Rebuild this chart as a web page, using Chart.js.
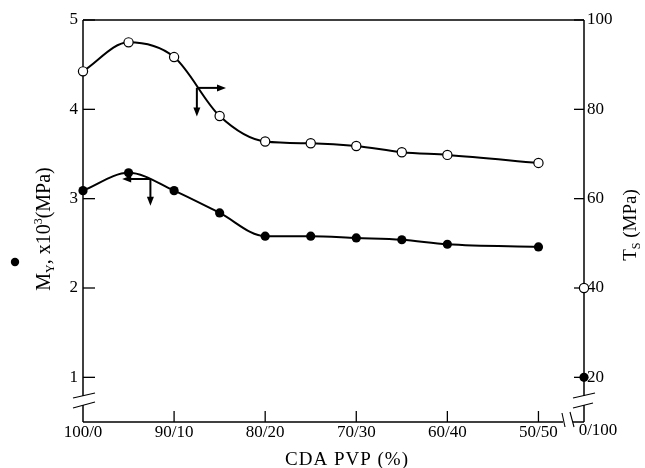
<!DOCTYPE html>
<html>
<head>
<meta charset="utf-8">
<script src="https://cdn.jsdelivr.net/npm/chart.js@4.4.0/dist/chart.umd.min.js"></script>
<style>
  html, body { margin: 0; padding: 0; background: #fff; }
  #wrap { width: 645px; height: 468px; }
</style>
</head>
<body>
<div id="wrap"><canvas id="c" width="645" height="468"></canvas></div>
<script>
// PVP content (%) of each CDA/PVP blend film
const pvpContent = [0, 5, 10, 15, 20, 25, 30, 35, 40, 50];
// Tensile strength T_S (MPa) - open circles, right axis
const tensileStrength = [88.5, 95.0, 91.7, 78.5, 72.8, 72.4, 71.8, 70.4, 69.8, 68.0];
// Young's modulus M_Y x10^3 (MPa) - filled circles, left axis
const youngModulus = [3.09, 3.29, 3.09, 2.84, 2.58, 2.58, 2.56, 2.54, 2.49, 2.46];

// Pure PVP film (0/100), plotted past the axis break
const purePvpLabel = '0/100';
const purePvpTensile = 40;
const purePvpModulus = 1.0;

// Axis ticks
const blendTickValues = [0, 10, 20, 30, 40, 50];
const blendTickLabels = ['100/0', '90/10', '80/20', '70/30', '60/40', '50/50'];
const modulusTicks = [1, 2, 3, 4, 5];
const tensileTicks = [20, 40, 60, 80, 100];

// Axis-indicator arrows: {axis, x, y, toX, downTo}
const axisArrows = [
  { axis: 'yR', x: 12.5, y: 84.8, toX: 15.7, downTo: 78.4 },
  { axis: 'yL', x: 7.4, y: 3.22, toX: 4.3, downTo: 2.92 }
];

// The x axis is broken after 50/50; pure PVP sits at the right edge.
const PURE_PVP_POS = 55;

const SERIF = '"Liberation Serif", "Times New Roman", serif';
const X_LABEL_PAD = 0;

const frame = {
  id: 'frame',
  beforeDatasetsDraw(chart) {
    const { ctx, chartArea: a, scales } = chart;
    const L = a.left, R = a.right, T = a.top, B = a.bottom;
    const seg = (x1, y1, x2, y2) => { ctx.beginPath(); ctx.moveTo(x1, y1); ctx.lineTo(x2, y2); ctx.stroke(); };
    ctx.save();
    ctx.strokeStyle = '#000';
    ctx.lineWidth = 1.5;
    ctx.lineCap = 'butt';
    seg(L, T, R, T);
    seg(L, T, L, B - 26); seg(L, B - 17, L, B);
    seg(R, T, R, B - 26); seg(R, B - 17, R, B);
    seg(L, B, R - 21, B); seg(R - 11, B, R, B);
    // axis break marks
    ctx.lineWidth = 1.1;
    seg(L - 10, B - 24, L + 12, B - 29); seg(L - 10, B - 14, L + 12, B - 20);
    seg(R - 11, B - 24, R + 11, B - 29); seg(R - 11, B - 14, R + 9, B - 19);
    seg(R - 22, B - 9, R - 19, B + 5); seg(R - 14, B - 10, R - 10, B + 5);
    // inward tick marks
    ctx.lineWidth = 1.3;
    modulusTicks.forEach(v => { const y = scales.yL.getPixelForValue(v); seg(L, y, L + 12, y); });
    tensileTicks.forEach(v => { const y = scales.yR.getPixelForValue(v); seg(R - 10, y, R, y); });
    blendTickValues.forEach(v => { if (v === 0) return; const x = scales.x.getPixelForValue(v); seg(x, B, x, B - 11); });
    ctx.restore();
  }
};

const annotations = {
  id: 'annotations',
  afterDatasetsDraw(chart) {
    const { ctx, scales, chartArea: a } = chart;
    const xs = scales.x;
    ctx.save();
    ctx.strokeStyle = '#000';
    ctx.fillStyle = '#000';
    ctx.lineWidth = 2;
    const head = (x, y, dx, dy) => {
      const len = 9, hw = 3.5;
      ctx.beginPath();
      ctx.moveTo(x, y);
      ctx.lineTo(x - dx * len - dy * hw, y - dy * len + dx * hw);
      ctx.lineTo(x - dx * len + dy * hw, y - dy * len - dx * hw);
      ctx.closePath();
      ctx.fill();
    };
    axisArrows.forEach(ar => {
      const ys = scales[ar.axis];
      const x0 = xs.getPixelForValue(ar.x), y0 = ys.getPixelForValue(ar.y);
      const x1 = xs.getPixelForValue(ar.toX), y1 = ys.getPixelForValue(ar.downTo);
      const dir = Math.sign(x1 - x0);
      ctx.beginPath(); ctx.moveTo(x0, y0); ctx.lineTo(x1 - dir * 6, y0); ctx.stroke();
      head(x1, y0, dir, 0);
      ctx.beginPath(); ctx.moveTo(x0, y0); ctx.lineTo(x0, y1 - 6); ctx.stroke();
      head(x0, y1, 0, 1);
    });

    // label of the pure PVP position, past the break
    ctx.font = '17px ' + SERIF;
    ctx.textAlign = 'center';
    ctx.textBaseline = 'top';
    ctx.fillText(purePvpLabel, xs.getPixelForValue(PURE_PVP_POS) + 14, a.bottom + X_LABEL_PAD);
    ctx.restore();
  },
  afterDraw(chart) {
    const { ctx } = chart;
    ctx.save();
    ctx.fillStyle = '#000';
    ctx.textBaseline = 'alphabetic';

    // x title
    ctx.font = '19px ' + SERIF;
    ctx.letterSpacing = '1px';
    ctx.textAlign = 'center';
    ctx.fillText('CDA PVP (%)', 347, 465);
    ctx.letterSpacing = '0px';

    // rotated title made of normal / sub / superscript runs
    const runs = (cx, cy, parts) => {
      ctx.save();
      ctx.translate(cx, cy);
      ctx.rotate(-Math.PI / 2);
      ctx.textAlign = 'left';
      let w = 0;
      parts.forEach(p => { ctx.font = p.size + 'px ' + SERIF; w += ctx.measureText(p.t).width; });
      let x = -w / 2;
      parts.forEach(p => {
        ctx.font = p.size + 'px ' + SERIF;
        ctx.fillText(p.t, x, 6 + (p.dy || 0));
        x += ctx.measureText(p.t).width;
      });
      ctx.restore();
    };
    runs(44, 229, [
      { t: 'M', size: 20 }, { t: 'Y', size: 12, dy: 4 }, { t: ', x10', size: 20 },
      { t: '3', size: 12, dy: -8 }, { t: '(MPa)', size: 20 }
    ]);
    runs(630, 225, [
      { t: 'T', size: 19 }, { t: 'S', size: 12, dy: 4 }, { t: ' (MPa)', size: 19 }
    ]);

    // filled-circle key beside the left title
    ctx.beginPath();
    ctx.arc(15, 262, 4.2, 0, Math.PI * 2);
    ctx.fill();
    ctx.restore();
  }
};

const tickFont = { family: SERIF, size: 17 };

new Chart(document.getElementById('c'), {
  type: 'line',
  data: {
    datasets: [
      {
        data: pvpContent.map((p, i) => ({ x: p, y: tensileStrength[i] })),
        yAxisID: 'yR',
        borderColor: '#000', borderWidth: 2,
        pointRadius: 4.6, pointBackgroundColor: '#fff', pointBorderColor: '#000', pointBorderWidth: 1.2,
        cubicInterpolationMode: 'monotone', clip: false
      },
      {
        data: pvpContent.map((p, i) => ({ x: p, y: youngModulus[i] })),
        yAxisID: 'yL',
        borderColor: '#000', borderWidth: 2,
        pointRadius: 4.6, pointBackgroundColor: '#000', pointBorderColor: '#000', pointBorderWidth: 0,
        cubicInterpolationMode: 'monotone', clip: false
      },
      {
        data: [{ x: PURE_PVP_POS, y: purePvpTensile }],
        yAxisID: 'yR', showLine: false,
        pointRadius: 4.6, pointBackgroundColor: '#fff', pointBorderColor: '#000', pointBorderWidth: 1.2,
        clip: false
      },
      {
        data: [{ x: PURE_PVP_POS, y: purePvpModulus }],
        yAxisID: 'yL', showLine: false,
        pointRadius: 4.6, pointBackgroundColor: '#000', pointBorderColor: '#000', pointBorderWidth: 0,
        clip: false
      }
    ]
  },
  options: {
    responsive: false,
    devicePixelRatio: 1,
    animation: false,
    layout: { padding: { top: 20, left: 0, right: 0, bottom: 0 } },
    plugins: { legend: { display: false }, tooltip: { enabled: false } },
    scales: {
      x: {
        type: 'linear', min: 0, max: PURE_PVP_POS,
        grid: { display: false, drawTicks: false }, border: { display: false },
        afterBuildTicks: s => { s.ticks = blendTickValues.map(v => ({ value: v })); },
        afterFit: s => { s.height = 46; },
        ticks: {
          autoSkip: false, maxRotation: 0, padding: X_LABEL_PAD, color: '#000', font: tickFont,
          callback: (v, i) => blendTickLabels[i]
        }
      },
      yL: {
        type: 'linear', position: 'left', min: 0.5, max: 5,
        grid: { display: false, drawTicks: false }, border: { display: false },
        afterBuildTicks: s => { s.ticks = modulusTicks.map(v => ({ value: v })); },
        afterFit: s => { s.width = 83; },
        ticks: { padding: 5, color: '#000', font: tickFont, callback: v => String(v) }
      },
      yR: {
        type: 'linear', position: 'right', min: 10, max: 100,
        grid: { display: false, drawTicks: false }, border: { display: false },
        afterBuildTicks: s => { s.ticks = tensileTicks.map(v => ({ value: v })); },
        afterFit: s => { s.width = 61; },
        ticks: { padding: 3, color: '#000', font: tickFont, callback: v => String(v) }
      }
    }
  },
  plugins: [frame, annotations]
});
</script>
</body>
</html>
